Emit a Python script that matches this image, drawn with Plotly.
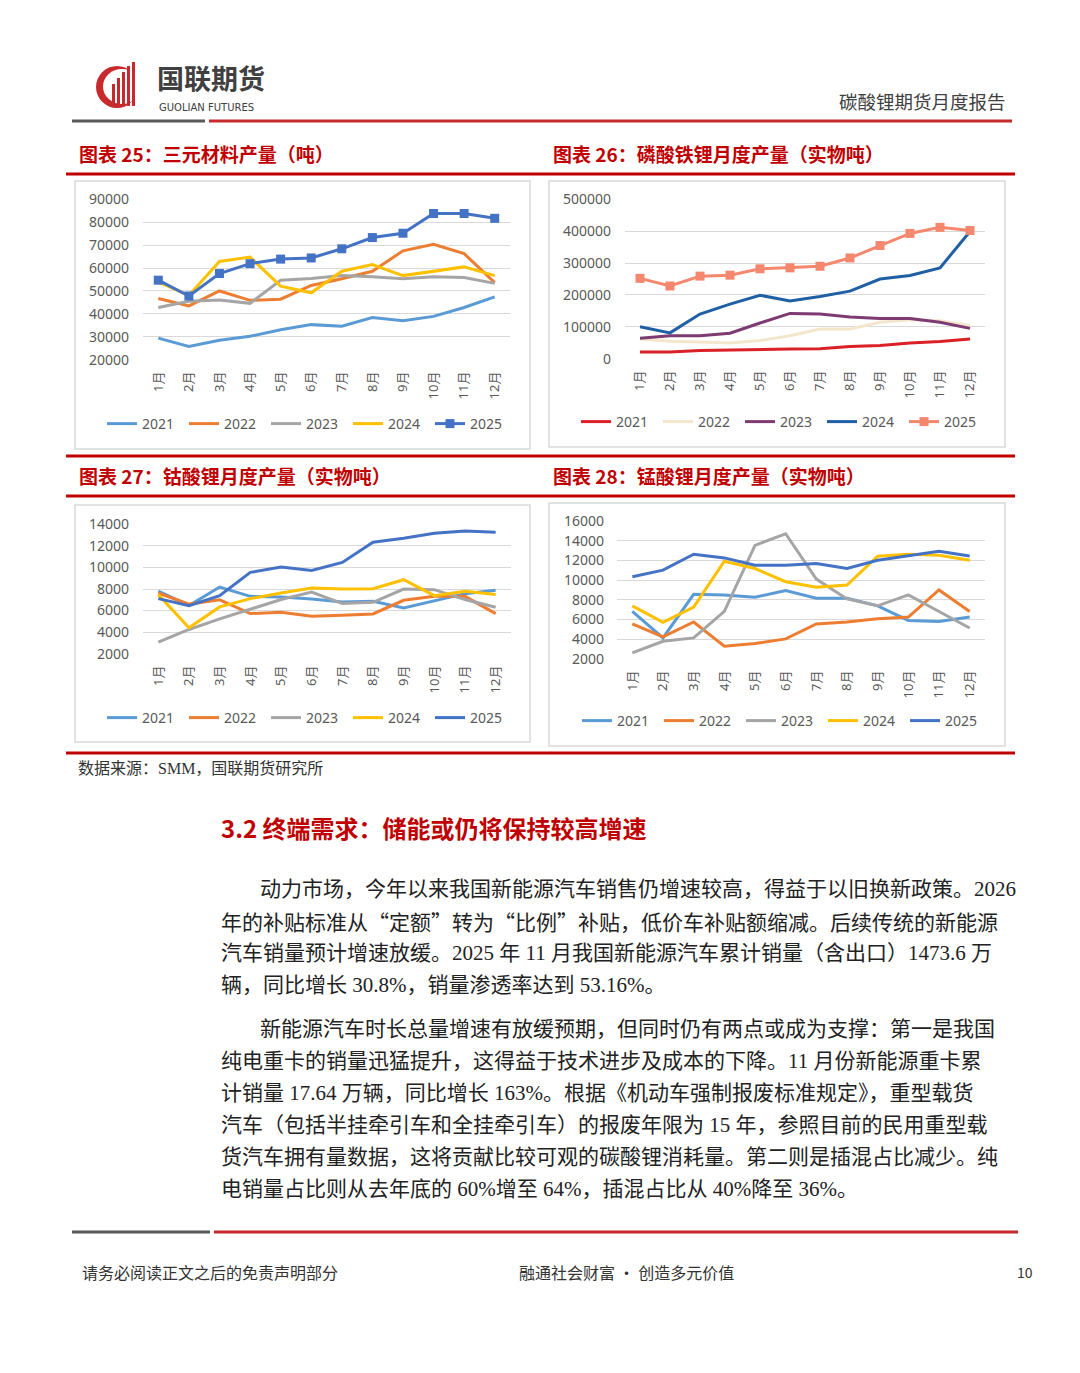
import plotly.graph_objects as go

W, H = 1080, 1373
OFF = 8  # page body margin of the browser

months = ["1月", "2月", "3月", "4月", "5月", "6月", "7月", "8月", "9月", "10月", "11月", "12月"]
years = ["2021", "2022", "2023", "2024", "2025"]

# 图表25 三元材料产量（吨）
ncm_2021 = [29400, 25800, 28500, 30200, 33100, 35300, 34600, 38400, 37000, 38900, 42800, 47400]
ncm_2022 = [46700, 43500, 50000, 45900, 46400, 52400, 55300, 58600, 67500, 70400, 66300, 53600]
ncm_2023 = [42800, 45500, 46100, 44600, 54700, 55400, 56700, 56200, 55300, 56200, 55900, 53300]
ncm_2024 = [54000, 48000, 62900, 64800, 52100, 49200, 58600, 61500, 56700, 58600, 60500, 56700]
ncm_2025 = [54700, 47800, 57600, 61900, 63900, 64400, 68400, 73300, 75200, 83800, 83800, 81700]

# 图表26 磷酸铁锂月度产量（实物吨）
lfp_2021 = [20700, 20700, 26000, 28000, 29000, 30000, 31000, 38000, 41000, 49000, 54000, 62000]
lfp_2022 = [62000, 55000, 52000, 49000, 57000, 72000, 93000, 93000, 114000, 122000, 119000, 104000]
lfp_2023 = [64000, 72000, 72000, 80000, 112000, 142000, 140000, 131000, 126000, 126000, 114000, 95000]
lfp_2024 = [100000, 81000, 140000, 171000, 199000, 181000, 195000, 212000, 250000, 261000, 285000, 399000]
lfp_2025 = [252000, 228000, 259000, 262000, 282000, 285000, 290000, 316000, 355000, 393000, 412000, 402000]

# 图表27 钴酸锂月度产量（实物吨）
lco_2021 = [7800, 6460, 8180, 7320, 7260, 7080, 6800, 6860, 6250, 6920, 7570, 7880]
lco_2022 = [7630, 6600, 7000, 5720, 5850, 5480, 5570, 5690, 6950, 7320, 7320, 5720]
lco_2023 = [3080, 4250, 5230, 6090, 7020, 7720, 6650, 6770, 8000, 7940, 7020, 6310]
lco_2024 = [7480, 4400, 6340, 7110, 7630, 8090, 8000, 8030, 8860, 7380, 7780, 7480]
lco_2025 = [7110, 6460, 7380, 9540, 10030, 9720, 10460, 12340, 12710, 13170, 13380, 13260]

# 图表28 锰酸锂月度产量（实物吨）
lmo_2021 = [6815, 4120, 8565, 8500, 8260, 8940, 8160, 8160, 7390, 5900, 5800, 6240]
lmo_2022 = [5540, 4220, 5740, 3280, 3550, 4020, 5540, 5740, 6070, 6240, 9000, 6815]
lmo_2023 = [2600, 3780, 4120, 6815, 13550, 14730, 10110, 8090, 7390, 8500, 6815, 5130]
lmo_2024 = [7390, 5700, 7250, 11930, 11190, 9840, 9270, 9510, 12440, 12640, 12540, 12030]
lmo_2025 = [10350, 11020, 12640, 12270, 11530, 11530, 11700, 11190, 12030, 12470, 12940, 12470]

chart_titles = ["图表 25：三元材料产量（吨）", "图表 26：磷酸铁锂月度产量（实物吨）",
                "图表 27：钴酸锂月度产量（实物吨）", "图表 28：锰酸锂月度产量（实物吨）"]

para1 = [
    "动力市场，今年以来我国新能源汽车销售仍增速较高，得益于以旧换新政策。2026",
    "年的补贴标准从“定额”转为“比例”补贴，低价车补贴额缩减。后续传统的新能源",
    "汽车销量预计增速放缓。2025 年 11 月我国新能源汽车累计销量（含出口）1473.6 万",
    "辆，同比增长 30.8%，销量渗透率达到 53.16%。",
]
para2 = [
    "新能源汽车时长总量增速有放缓预期，但同时仍有两点或成为支撑：第一是我国",
    "纯电重卡的销量迅猛提升，这得益于技术进步及成本的下降。11 月份新能源重卡累",
    "计销量 17.64 万辆，同比增长 163%。根据《机动车强制报废标准规定》，重型载货",
    "汽车（包括半挂牵引车和全挂牵引车）的报废年限为 15 年，参照目前的民用重型载",
    "货汽车拥有量数据，这将贡献比较可观的碳酸锂消耗量。第二则是插混占比减少。纯",
    "电销量占比则从去年底的 60%增至 64%，插混占比从 40%降至 36%。",
]

office_colors = ["#5B9BD5", "#ED7D31", "#A5A5A5", "#FFC000", "#4472C4"]
lfp_colors = ["#DA2128", "#F3E6CC", "#7E3B72", "#1F5FA3", "#F4876E"]

RED = "#C00000"
GRID = "#D9D9D9"
TXT = "#595959"
CJK = "Noto Sans CJK SC"
SERIF = "Liberation Serif, Noto Sans CJK SC"
TICKF = "Noto Sans, Noto Sans CJK SC"


def px(x):
    return (x - OFF) / W


def py(y):
    return 1 - (y - OFF) / H


fig = go.Figure()
layout = {}

charts = [
    dict(data=[ncm_2021, ncm_2022, ncm_2023, ncm_2024, ncm_2025], colors=office_colors, marker=True,
         xd=(143, 510), yd=(199, 360), yr=(20000, 90000), dt=10000, leg=(307, 424), std=13),
    dict(data=[lfp_2021, lfp_2022, lfp_2023, lfp_2024, lfp_2025], colors=lfp_colors, marker=True,
         xd=(625, 985), yd=(199, 359), yr=(0, 500000), dt=100000, leg=(781, 422), std=13),
    dict(data=[lco_2021, lco_2022, lco_2023, lco_2024, lco_2025], colors=office_colors, marker=False,
         xd=(143, 511), yd=(524, 654), yr=(2000, 14000), dt=2000, leg=(307, 718), std=13),
    dict(data=[lmo_2021, lmo_2022, lmo_2023, lmo_2024, lmo_2025], colors=office_colors, marker=False,
         xd=(617, 985), yd=(521, 659), yr=(2000, 16000), dt=2000, leg=(782, 721), std=12),
]

for i, c in enumerate(charts, start=1):
    sfx = "" if i == 1 else str(i)
    legname = "legend" if i == 1 else f"legend{i}"
    for k, (yr, vals) in enumerate(zip(years, c["data"])):
        is_mark = c["marker"] and k == 4
        fig.add_trace(go.Scatter(
            x=months, y=vals, name=yr,
            mode="lines+markers" if is_mark else "lines",
            line=dict(color=c["colors"][k], width=3),
            marker=dict(symbol="square", size=9, color=c["colors"][k]) if is_mark else None,
            xaxis=f"x{sfx}", yaxis=f"y{sfx}", legend=legname,
            hoverinfo="skip",
        ))
    pad = (c["yr"][1] - c["yr"][0]) * 0.002
    layout[f"xaxis{sfx}"] = dict(
        domain=[px(c["xd"][0]), px(c["xd"][1])], anchor=f"y{sfx}", type="category",
        categoryorder="array", categoryarray=months,
        range=[-0.5, 11.5], showgrid=False, showline=False, zeroline=False, ticks="",
        tickangle=-90, tickfont=dict(family=TICKF, size=13, color=TXT), ticklabelstandoff=8,
        automargin=False,
    )
    layout[f"yaxis{sfx}"] = dict(
        domain=[py(c["yd"][1]), py(c["yd"][0])], anchor=f"x{sfx}",
        range=[c["yr"][0] - pad, c["yr"][1] + pad], dtick=c["dt"], tick0=0, tickformat="d",
        showgrid=True, gridcolor=GRID, gridwidth=1.2, showline=False, zeroline=False, ticks="",
        tickfont=dict(family=TICKF, size=14, color=TXT), ticklabelstandoff=c["std"],
        automargin=False,
    )
    layout[legname] = dict(
        orientation="h", x=px(c["leg"][0]), xanchor="center", y=py(c["leg"][1]), yanchor="middle",
        font=dict(family=TICKF, size=14, color=TXT), entrywidth=37, entrywidthmode="pixels",
        bgcolor="rgba(0,0,0,0)", itemclick=False, itemdoubleclick=False,
    )

shapes = []


def rect(x0, y0, x1, y1, fill=None, line=None, lw=0, layer="above"):
    shapes.append(dict(type="rect", xref="paper", yref="paper", x0=px(x0), x1=px(x1),
                       y0=py(y1), y1=py(y0), fillcolor=fill or "rgba(0,0,0,0)",
                       line=dict(color=line or "rgba(0,0,0,0)", width=lw), layer=layer))


# chart boxes
rect(75, 181, 530, 449, line="#D9D9D9", lw=1.5, layer="below")
rect(549, 181, 1005, 447, line="#D9D9D9", lw=1.5, layer="below")
rect(75, 505, 530, 742, line="#D9D9D9", lw=1.5, layer="below")
rect(549, 503, 1005, 746, line="#D9D9D9", lw=1.5, layer="below")

# header rule
rect(72, 119.5, 205, 122.5, fill="#595959")
rect(209, 119.5, 1012, 122.5, fill="#C7292C")
# red rules around titles
for yy in (174, 456, 496, 753):
    rect(66, yy - 1.6, 1015, yy + 1.6, fill="#C00000")
# footer rule
rect(72, 1230.5, 210, 1233.5, fill="#595959")
rect(214, 1230.5, 1018, 1233.5, fill="#C7292C")

# logo
shapes.append(dict(type="circle", xref="paper", yref="paper", x0=px(96), x1=px(138), y0=py(108), y1=py(66),
                   fillcolor="#C7292C", line=dict(width=0)))
shapes.append(dict(type="circle", xref="paper", yref="paper", x0=px(103), x1=px(141), y0=py(104), y1=py(69),
                   fillcolor="white", line=dict(width=0)))
for bx, top in ((112, 84), (117, 78), (122, 72), (127, 66), (132, 62)):
    rect(bx, top, bx + 3, 106, fill="#C7292C")

layout["shapes"] = shapes

ann = []


def text(x, y, s, size, color="#333333", family=CJK, anchor="left", bold=False, yanchor="middle"):
    ann.append(dict(xref="paper", yref="paper", x=px(x), y=py(y), text=f"<b>{s}</b>" if bold else s,
                    showarrow=False, xanchor=anchor, yanchor=yanchor,
                    font=dict(family=family, size=size, color=color)))


def cjk_quotes(s):
    for q in ("“", "”"):
        s = s.replace(q, f'<span style="font-family:Noto Sans CJK SC">{q}</span>')
    return s


text(155, 99, "国联期货", 27, color="#404040", bold=True, yanchor="bottom")
text(157, 99.5, "GUOLIAN FUTURES", 10, color="#404040", family="DejaVu Sans", yanchor="top")
text(1008, 101, "碳酸锂期货月度报告", 18.5, color="#404040", anchor="right")

text(77, 153, chart_titles[0], 19, color=RED, bold=True)
text(551, 153, chart_titles[1], 19, color=RED, bold=True)
text(77, 476, chart_titles[2], 19, color=RED, bold=True)
text(551, 476, chart_titles[3], 19, color=RED, bold=True)

text(76, 768, "数据来源：SMM，国联期货研究所", 16, color="#333333", family=SERIF)
text(219, 827, "3.2 终端需求：储能或仍将保持较高增速", 24, color=RED, bold=True)

for j, line in enumerate(para1):
    text(258 if j == 0 else 219, 889 + 32 * j, cjk_quotes(line), 21, color="#222222", family=SERIF)
for j, line in enumerate(para2):
    text(258 if j == 0 else 219, 1029 + 32 * j, cjk_quotes(line), 21, color="#222222", family=SERIF)

text(80, 1272, "请务必阅读正文之后的免责声明部分", 16, color="#333333")
text(626, 1272, "融通社会财富 • 创造多元价值", 16, color="#333333", anchor="center")
text(1035, 1272, "10", 14, color="#333333", anchor="right")

layout["annotations"] = ann

fig.update_layout(
    width=W, height=H, margin=dict(l=0, r=0, t=0, b=0, autoexpand=False),
    paper_bgcolor="white", plot_bgcolor="white", showlegend=True,
    **layout,
)

fig.write_html("out.html")
